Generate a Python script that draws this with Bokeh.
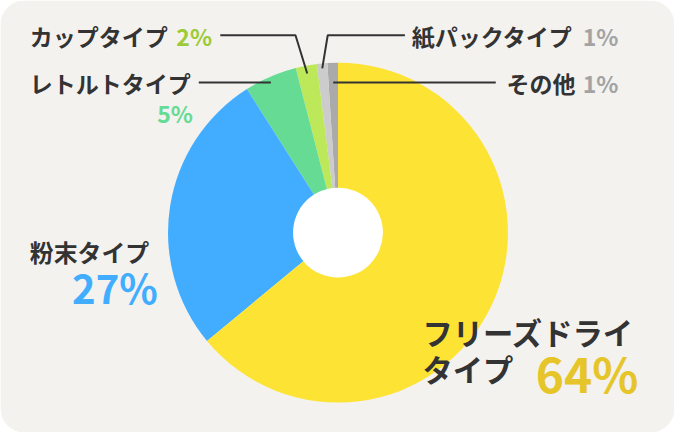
import numpy as np
from bokeh.plotting import figure
from bokeh.models import Range1d, ColumnDataSource
from bokeh.core.properties import value
from bokeh.embed import file_html
from bokeh.resources import INLINE

# ---- data ----
categories = ["その他", "紙パックタイプ", "カップタイプ", "レトルトタイプ", "粉末タイプ", "フリーズドライタイプ"]
shares = [1, 1, 2, 5, 27, 64]
slice_colors = ["#aaaaaa", "#cccccc", "#bde85a", "#66db94", "#42adff", "#fde334"]
pct_colors = ["#a3a3a3", "#a3a3a3", "#9ccb35", "#66db94", "#42adff", "#e6c52a"]

FONT = value("Noto Sans CJK JP")
TXT = "#333333"
W_REF, H_REF = 690, 448
PW, PH = 674, 432
FS = PW / W_REF  # font scale

def Y(py):
    return H_REF - py

p = figure(width=PW, height=PH, x_range=Range1d(0, W_REF), y_range=Range1d(0, H_REF),
           output_backend="svg", toolbar_location=None, min_border=0,
           x_axis_location=None, y_axis_location=None)
p.grid.visible = False
p.outline_line_color = None
p.background_fill_color = "white"
p.border_fill_color = "white"

# panel
p.quad(left=0, right=W_REF, bottom=0, top=H_REF, fill_color="#f3f2ef", line_color=None, border_radius=24)

# pie
cx, cy, R, r_hole = 345.5, Y(240.7), 174, 46
frac = np.array(shares, dtype=float) / sum(shares)
cum = np.concatenate([[0], np.cumsum(frac)]) * 2 * np.pi
start = np.pi / 2 + cum[:-1]
end = np.pi / 2 + cum[1:]
mid = (start + end) / 2
src = ColumnDataSource(dict(start=start, end=end, color=slice_colors, cat=categories))
p.wedge(x=cx, y=cy, radius=R, start_angle="start", end_angle="end",
        fill_color="color", line_color=None, source=src)
p.circle(x=cx, y=cy, radius=r_hole, fill_color="white", line_color=None)

# leader lines: (slice index, radius of tip, elbow x, elbow y, end x)
leaders = [
    (2, 168, 302, 36, 225),   # cup
    (1, 171, 335, 36, 414),   # paper pack
    (0, 156, None, 85, 507),  # other
    (3, 173, None, 85, 203),  # retort
]
xs, ys = [], []
for i, rr, ex, ey, endx in leaders:
    tx = cx + rr * np.cos(mid[i])
    ty = cy + rr * np.sin(mid[i])
    if ex is None:
        xs.append([tx, endx]); ys.append([Y(ey), Y(ey)])
    else:
        xs.append([tx, ex, endx]); ys.append([ty, Y(ey), Y(ey)])
p.multi_line(xs=xs, ys=ys, line_color="#333333", line_width=2)

def label(txt, x, y, size, color=TXT, align="left"):
    p.text(x=[x], y=[Y(y)], text=[txt], text_font=FONT, text_font_style="bold",
           text_font_size=f"{size * FS:.1f}px", text_color=color, text_align=align,
           text_baseline="middle")

def pct(i):
    return f"{shares[i]}%"

# cup
label(categories[2], 30, 37, 23.5)
label(pct(2), 180, 37, 23.5, pct_colors[2])
# paper pack
label(categories[1], 421, 37, 23.5)
label(pct(1), 596, 37, 23.5, pct_colors[1])
# other
label(categories[0], 518, 86, 23.5)
label(pct(0), 596, 86, 23.5, pct_colors[0])
# retort
label(categories[3], 30, 86, 23.5)
label(pct(3), 197, 117, 23.5, pct_colors[3], "right")
# powder
label(categories[4], 30, 260, 24.5)
label(pct(4), 161, 297, 41, pct_colors[4], "right")
# freeze dry
label(categories[5][:-3], 432, 344, 31)
label(categories[5][-3:], 432, 382, 31)
label(pct(5), 653, 385, 49, pct_colors[5], "right")

open("out.html", "w").write(file_html(p, INLINE))
